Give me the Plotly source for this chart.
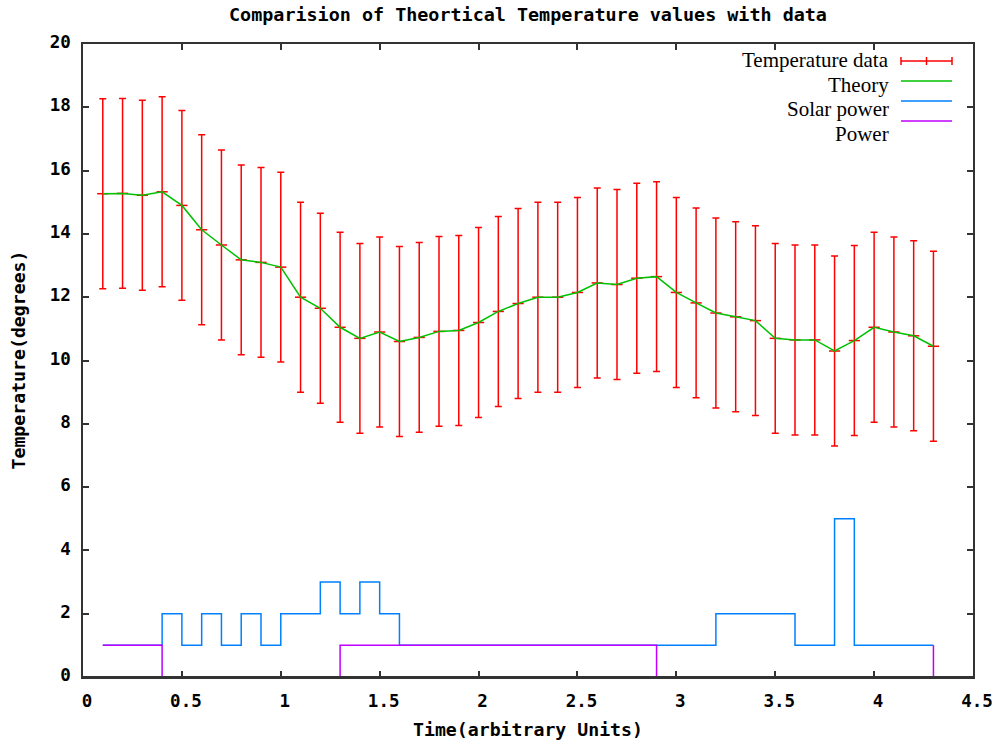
import plotly.graph_objects as go

# ---- data ----
time_x = [0.1, 0.2, 0.3, 0.4, 0.5, 0.6, 0.7, 0.8, 0.9, 1.0,
          1.1, 1.2, 1.3, 1.4, 1.5, 1.6, 1.7, 1.8, 1.9, 2.0,
          2.1, 2.2, 2.3, 2.4, 2.5, 2.6, 2.7, 2.8, 2.9, 3.0,
          3.1, 3.2, 3.3, 3.4, 3.5, 3.6, 3.7, 3.8, 3.9, 4.0,
          4.1, 4.2, 4.3]
temperature = [15.27, 15.28, 15.22, 15.33, 14.90, 14.13, 13.65, 13.18, 13.10, 12.95,
               12.00, 11.65, 11.05, 10.70, 10.90, 10.60, 10.73, 10.92, 10.95, 11.20,
               11.55, 11.80, 12.00, 12.00, 12.15, 12.45, 12.40, 12.60, 12.65, 12.15,
               11.82, 11.50, 11.38, 11.26, 10.70, 10.65, 10.65, 10.30, 10.63, 11.05,
               10.90, 10.78, 10.45]
temp_error = [3, 3, 3, 3, 3, 3, 3, 3, 3, 3,
              3, 3, 3, 3, 3, 3, 3, 3, 3, 3,
              3, 3, 3, 3, 3, 3, 3, 3, 3, 3,
              3, 3, 3, 3, 3, 3, 3, 3, 3, 3,
              3, 3, 3]
theory = [15.27, 15.28, 15.22, 15.33, 14.90, 14.13, 13.65, 13.18, 13.10, 12.95,
          12.00, 11.65, 11.05, 10.70, 10.90, 10.60, 10.73, 10.92, 10.95, 11.20,
          11.55, 11.80, 12.00, 12.00, 12.15, 12.45, 12.40, 12.60, 12.65, 12.15,
          11.82, 11.50, 11.38, 11.26, 10.70, 10.65, 10.65, 10.30, 10.63, 11.05,
          10.90, 10.78, 10.45]
solar_power = [1, 1, 1, 2, 1, 2, 1, 2, 1, 2,
               2, 3, 2, 3, 2, 1, 1, 1, 1, 1,
               1, 1, 1, 1, 1, 1, 1, 1, 1, 1,
               1, 2, 2, 2, 2, 1, 1, 5, 1, 1,
               1, 1, 1]
power = [1, 1, 1, 0, 0, 0, 0, 0, 0, 0,
         0, 0, 1, 1, 1, 1, 1, 1, 1, 1,
         1, 1, 1, 1, 1, 1, 1, 1, 0, 0,
         0, 0, 0, 0, 0, 0, 0, 0, 0, 0,
         0, 0, 1]

series_names = ["Temperature data", "Theory", "Solar power", "Power"]
series_colors = ["#ff0000", "#00c000", "#0080ff", "#c000ff"]

title_text = "Comparision of Theortical Temperature values with data"
x_title = "Time(arbitrary Units)"
y_title = "Temperature(degrees)"

MONO = dict(family="DejaVu Sans Mono", size=17.5, color="#000000", weight="bold")
MONO_TITLE = dict(MONO, size=18.4)
MONO_AXIS = dict(MONO, size=18.2)
BORDER = "#333333"

fig = go.Figure()
fig.add_trace(go.Scatter(
    x=time_x, y=temperature, mode="markers", name=series_names[0],
    marker=dict(symbol="line-ew-open", size=8, color=series_colors[0],
                line=dict(color=series_colors[0], width=1.5)),
    error_y=dict(type="data", array=temp_error, color=series_colors[0],
                 thickness=1.5, width=3.5),
    showlegend=False))
fig.add_trace(go.Scatter(
    x=time_x, y=theory, mode="lines", name=series_names[1],
    line=dict(color=series_colors[1], width=1.5), showlegend=False))
fig.add_trace(go.Scatter(
    x=time_x, y=solar_power, mode="lines", name=series_names[2],
    line=dict(color=series_colors[2], width=1.5, shape="hv"), showlegend=False))
fig.add_trace(go.Scatter(
    x=time_x, y=power, mode="lines", name=series_names[3],
    line=dict(color=series_colors[3], width=1.5, shape="hv"), showlegend=False))

W, H = 997, 740
L, R, T, B = 83, 24, 44, 63
pw, ph = W - L - R, H - T - B

def px_x(p):
    return (p - L) / pw

def px_y(p):
    return (H - B - p) / ph

# bottom border drawn over the zero-level step segments (as gnuplot's border does)
fig.add_shape(type="line", xref="x domain", yref="y", x0=0, x1=1, y0=0, y1=0,
              layer="above", line=dict(color=BORDER, width=2))

# ---- custom legend (gnuplot style: text then sample on the right) ----
text_rows = [60, 84.5, 109, 134]
line_rows = [61, 81, 101, 121]
for i, name in enumerate(series_names):
    fig.add_annotation(
        xref="paper", yref="paper", x=px_x(891), y=px_y(text_rows[i]),
        xanchor="right", yanchor="middle", showarrow=False, text=name,
        font=dict(family="Liberation Serif", size=21, color="#000000"))
    fig.add_shape(type="line", xref="paper", yref="paper",
                  x0=px_x(901), x1=px_x(952), y0=px_y(line_rows[i]), y1=px_y(line_rows[i]),
                  line=dict(color=series_colors[i], width=1.5))
for xp in (901, 926.5, 952):
    fig.add_shape(type="line", xref="paper", yref="paper",
                  x0=px_x(xp), x1=px_x(xp),
                  y0=px_y(line_rows[0] - 4), y1=px_y(line_rows[0] + 4),
                  line=dict(color=series_colors[0], width=1.5))

# axis titles
fig.add_annotation(xref="paper", yref="paper", x=0.5, y=0, yshift=-52,
                   xanchor="center", yanchor="middle", showarrow=False,
                   text=x_title, font=MONO_AXIS)
fig.add_annotation(xref="paper", yref="paper", x=0, y=0.5, xshift=-65,
                   xanchor="center", yanchor="middle", showarrow=False,
                   text=y_title, textangle=-90, font=MONO_AXIS)

axis_common = dict(showline=True, linecolor=BORDER, linewidth=1.5, mirror="ticks",
                   ticks="inside", ticklen=6, tickwidth=1.5, tickcolor=BORDER,
                   showgrid=False, zeroline=False, tickfont=MONO, automargin=False)

fig.update_layout(
    width=W, height=H, autosize=False,
    margin=dict(l=L, r=R, t=T, b=B, autoexpand=False),
    paper_bgcolor="#ffffff", plot_bgcolor="#ffffff",
    title=dict(text=title_text, x=528 / W, xanchor="center",
               y=1 - 14.5 / H, yanchor="middle", yref="container", font=MONO_TITLE),
    xaxis=dict(range=[0, 4.5], dtick=0.5, tick0=0, ticklabelstandoff=7,
               ticklabelshift=4, **axis_common),
    yaxis=dict(range=[0, 20], dtick=2, tick0=0, ticklabelstandoff=7,
               ticklabelshift=-2, **axis_common),
    showlegend=False,
)

fig.write_html("out.html", config={"responsive": False})
